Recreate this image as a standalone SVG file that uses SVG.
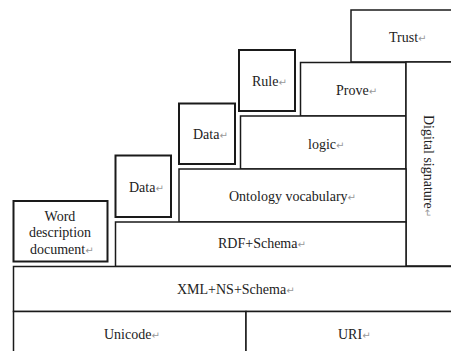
<svg xmlns="http://www.w3.org/2000/svg" width="451" height="351" viewBox="0 0 451 351">
<style>
rect{fill:#fff;stroke:#1a1a1a;stroke-width:1.5}
rect.b{stroke-width:2}
text{font-family:"Liberation Serif","Times New Roman",serif;font-size:14px;fill:#222}
.r{fill:#999;font-size:10px;font-family:"DejaVu Sans",sans-serif}
</style>
<rect width="451" height="351" style="fill:#fff;stroke:none"/>
<g id="trust"><rect x="351" y="10" width="104" height="52"/><text x="389" y="41.5">Trust<tspan class="r">↵</tspan></text></g>
<g id="rule"><rect class="b" x="239" y="50" width="56" height="61"/><text x="252" y="86">Rule<tspan class="r">↵</tspan></text></g>
<g id="prove"><rect x="300.5" y="62.5" width="105.5" height="53.5"/><text x="336" y="95">Prove<tspan class="r">↵</tspan></text></g>
<g id="logic"><rect x="240.5" y="116" width="165.5" height="53"/><text x="308" y="149">logic<tspan class="r">↵</tspan></text></g>
<g id="data2"><rect class="b" x="179" y="103.5" width="56" height="60.5"/><text x="193" y="138.5">Data<tspan class="r">↵</tspan></text></g>
<g id="digsig"><rect x="406" y="62" width="49" height="204"/><text transform="translate(424,115) rotate(90)">Digital signature<tspan class="r">↵</tspan></text></g>
<g id="ontology"><rect x="179" y="169" width="227" height="53"/><text x="229" y="200.5">Ontology vocabulary<tspan class="r">↵</tspan></text></g>
<g id="data1"><rect class="b" x="115.5" y="155.5" width="55.5" height="61.5"/><text x="129" y="191.5">Data<tspan class="r">↵</tspan></text></g>
<g id="rdf"><rect x="115.5" y="222" width="290.5" height="44.5"/><text x="218" y="247.5">RDF+Schema<tspan class="r">↵</tspan></text></g>
<g id="word"><rect class="b" x="13.5" y="201" width="94" height="60.5"/><text x="60" y="220.5" text-anchor="middle">Word</text><text x="60" y="237" text-anchor="middle">description</text><text x="30" y="253.5">document<tspan class="r">↵</tspan></text></g>
<g id="xml"><rect x="13.5" y="266.5" width="441.5" height="45"/><text x="177" y="293.5">XML+NS+Schema<tspan class="r">↵</tspan></text></g>
<g id="unicode"><rect x="13.5" y="311.5" width="232.5" height="44"/><text x="104" y="338.5">Unicode<tspan class="r">↵</tspan></text></g>
<g id="uri"><rect x="246" y="311.5" width="209" height="44"/><text x="338" y="338.5">URI<tspan class="r">↵</tspan></text></g>
<g id="connectors"></g>
</svg>
